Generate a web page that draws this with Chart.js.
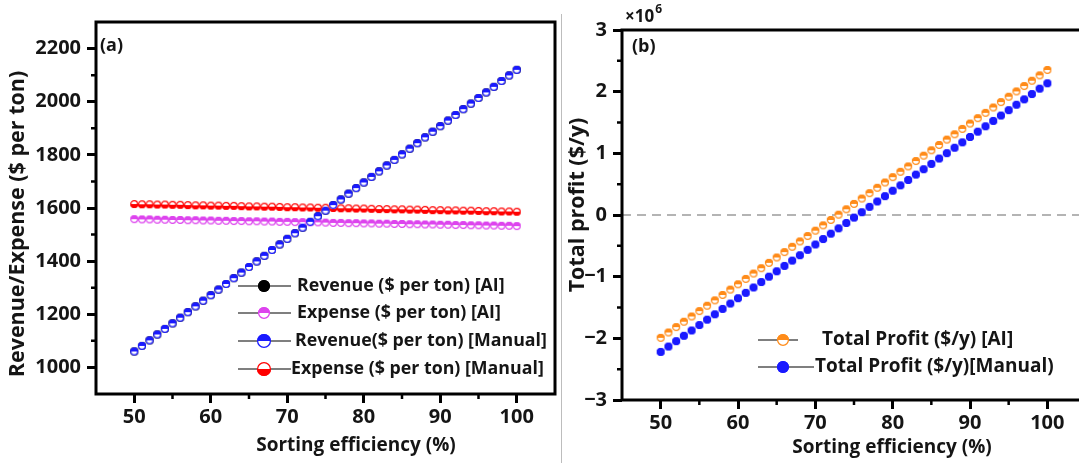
<!DOCTYPE html>
<html>
<head>
<meta charset="utf-8">
<script src="https://cdn.jsdelivr.net/npm/chart.js@4.4.1/dist/chart.umd.min.js"></script>
<style>
  html, body { margin: 0; padding: 0; background: #fff; overflow: hidden; width: 1079px; height: 463px; }
  #chartA { position: absolute; left: 0; top: 0; }
  #chartB { position: absolute; left: 560px; top: 0; }
  #sep { position: absolute; left: 561px; top: 14px; width: 1px; height: 449px; background: #bdbdbd; }
</style>
</head>
<body>
<canvas id="chartA" width="560" height="463"></canvas>
<div id="sep"></div>
<canvas id="chartB" width="532" height="463"></canvas>
<script>
// sorting efficiency (%)
const efficiency = [50, 51, 52, 53, 54, 55, 56, 57, 58, 59, 60, 61, 62, 63, 64, 65, 66, 67, 68, 69,
  70, 71, 72, 73, 74, 75, 76, 77, 78, 79, 80, 81, 82, 83, 84, 85, 86, 87, 88, 89,
  90, 91, 92, 93, 94, 95, 96, 97, 98, 99, 100];

// panel (a), $ per ton
const revenueAI = [1060, 1081, 1102, 1124, 1145, 1166, 1187, 1208, 1230, 1251, 1272, 1293, 1314, 1336, 1357, 1378, 1399,
  1420, 1442, 1463, 1484, 1505, 1526, 1548, 1569, 1590, 1611, 1632, 1654, 1675, 1696, 1717, 1738, 1760,
  1781, 1802, 1823, 1844, 1866, 1887, 1908, 1929, 1950, 1972, 1993, 2014, 2035, 2056, 2078, 2099, 2120];
const revenueManual = [1060, 1081, 1102, 1124, 1145, 1166, 1187, 1208, 1230, 1251, 1272, 1293, 1314, 1336, 1357, 1378, 1399,
  1420, 1442, 1463, 1484, 1505, 1526, 1548, 1569, 1590, 1611, 1632, 1654, 1675, 1696, 1717, 1738, 1760,
  1781, 1802, 1823, 1844, 1866, 1887, 1908, 1929, 1950, 1972, 1993, 2014, 2035, 2056, 2078, 2099, 2120];
const expenseAI = [1558, 1557, 1557, 1556, 1556, 1555, 1555, 1554, 1554, 1553, 1553, 1552, 1552, 1551, 1551, 1550, 1550,
  1549, 1549, 1548, 1548, 1547, 1547, 1546, 1546, 1545, 1544, 1544, 1543, 1543, 1542, 1542, 1541, 1541,
  1540, 1540, 1539, 1539, 1538, 1538, 1537, 1537, 1536, 1536, 1535, 1535, 1534, 1534, 1533, 1533, 1532];
const expenseManual = [1615, 1614, 1614, 1613, 1613, 1612, 1612, 1611, 1610, 1610, 1609, 1609, 1608, 1608, 1607, 1606, 1606,
  1605, 1605, 1604, 1603, 1603, 1602, 1602, 1601, 1601, 1600, 1599, 1599, 1598, 1598, 1597, 1596, 1596,
  1595, 1595, 1594, 1594, 1593, 1592, 1592, 1591, 1591, 1590, 1590, 1589, 1588, 1588, 1587, 1587, 1586];

// panel (b), total profit in millions of $/y
const profitAI = [-1.992, -1.905, -1.818, -1.731, -1.645, -1.558, -1.471, -1.384, -1.297, -1.210, -1.123, -1.036, -0.949,
  -0.863, -0.776, -0.689, -0.602, -0.515, -0.428, -0.341, -0.254, -0.168, -0.081, 0.006, 0.093, 0.180, 0.267,
  0.354, 0.441, 0.528, 0.614, 0.701, 0.788, 0.875, 0.962, 1.049, 1.136, 1.223, 1.309, 1.396, 1.483, 1.570,
  1.657, 1.744, 1.831, 1.918, 2.004, 2.091, 2.178, 2.265, 2.352];
const profitManual = [-2.220, -2.133, -2.046, -1.959, -1.872, -1.784, -1.697, -1.610, -1.523, -1.436, -1.349, -1.262, -1.175,
  -1.087, -1.000, -0.913, -0.826, -0.739, -0.652, -0.565, -0.478, -0.390, -0.303, -0.216, -0.129, -0.042, 0.045,
  0.132, 0.219, 0.306, 0.394, 0.481, 0.568, 0.655, 0.742, 0.829, 0.916, 1.003, 1.091, 1.178, 1.265, 1.352,
  1.439, 1.526, 1.613, 1.700, 1.788, 1.875, 1.962, 2.049, 2.136];

// axis ticks
const xTicks = [50, 60, 70, 80, 90, 100];
const xMinor = [55, 65, 75, 85, 95];
const yTicksA = [1000, 1200, 1400, 1600, 1800, 2000, 2200];
const yMinorA = [1100, 1300, 1500, 1700, 1900, 2100];
const yTicksB = [-3, -2, -1, 0, 1, 2, 3];
const yMinorB = [-2.5, -1.5, -0.5, 0.5, 1.5, 2.5];

const FONT = "'Open Sans', 'DejaVu Sans', sans-serif";
const INK = '#151515';

function marker(color, fill, r) {
  const s = Math.ceil(2 * r + 2);
  const c = document.createElement('canvas');
  c.width = c.height = s;
  const g = c.getContext('2d');
  const m = s / 2;
  g.beginPath(); g.arc(m, m, r, 0, 2 * Math.PI);
  g.fillStyle = fill === 'full' ? color : '#fff'; g.fill();
  if (fill === 'top' || fill === 'bottom') {
    g.beginPath();
    if (fill === 'top') g.arc(m, m, r, Math.PI, 2 * Math.PI); else g.arc(m, m, r, 0, Math.PI);
    g.closePath(); g.fillStyle = color; g.fill();
  }
  g.beginPath(); g.arc(m, m, r - 0.6, 0, 2 * Math.PI);
  g.lineWidth = 1.3; g.strokeStyle = color; g.stroke();
  return c;
}

function pts(ys) {
  return efficiency.map((x, i) => ({ x: x, y: ys[i] }));
}

function series(label, ys, color, fill, order, legendR) {
  return {
    label: label, data: pts(ys), showLine: false, order: order,
    pointStyle: marker(color, fill, 4), pointRadius: 4, pointHoverRadius: 4,
    legendMarker: marker(color, fill, legendR)
  };
}

// frame, minor ticks, titles, legend drawn on the canvas
const decor = {
  id: 'decor',
  beforeDatasetsDraw(chart, args, o) {
    if (!o.zeroLine) return;
    const ctx = chart.ctx, a = chart.chartArea;
    const y = chart.scales.y.getPixelForValue(0);
    ctx.save();
    ctx.strokeStyle = '#b4b4b4'; ctx.lineWidth = 2; ctx.setLineDash([9, 6]);
    ctx.beginPath(); ctx.moveTo(a.left, y); ctx.lineTo(a.right, y); ctx.stroke();
    ctx.restore();
  },
  afterDraw(chart, args, o) {
    const ctx = chart.ctx, a = chart.chartArea;
    const sx = chart.scales.x, sy = chart.scales.y;
    ctx.save();
    ctx.strokeStyle = '#000'; ctx.lineWidth = 3;
    ctx.strokeRect(a.left, a.top, a.right - a.left, a.bottom - a.top);
    ctx.lineWidth = 2.5;
    ctx.beginPath();
    o.minorX.forEach(v => { const x = sx.getPixelForValue(v); ctx.moveTo(x, a.bottom); ctx.lineTo(x, a.bottom + 5); });
    o.minorY.forEach(v => { const y = sy.getPixelForValue(v); ctx.moveTo(a.left, y); ctx.lineTo(a.left - 5, y); });
    ctx.stroke();

    ctx.fillStyle = INK;
    ctx.textBaseline = 'middle';
    ctx.textAlign = 'center';
    ctx.font = 'bold 19px ' + FONT;
    ctx.fillText(o.xTitle.text, o.xTitle.x, o.xTitle.y);
    ctx.save();
    ctx.font = 'bold 21.5px ' + FONT;
    ctx.translate(o.yTitle.x, o.yTitle.y); ctx.rotate(-Math.PI / 2);
    ctx.fillText(o.yTitle.text, 0, 0);
    ctx.restore();

    ctx.textAlign = 'left';
    ctx.font = 'bold 18px ' + FONT;
    ctx.fillText(o.panel.text, o.panel.x, o.panel.y);

    if (o.exponent) {
      ctx.textBaseline = 'alphabetic';
      ctx.font = 'bold 17px ' + FONT;
      ctx.fillText('×10', o.exponent.x, o.exponent.y);
      const w = ctx.measureText('×10').width;
      ctx.font = 'bold 12px ' + FONT;
      ctx.fillText('6', o.exponent.x + w + 1, o.exponent.y - 9);
      ctx.textBaseline = 'middle';
    }

    const L = o.legend;
    ctx.font = 'bold ' + L.size + 'px ' + FONT;
    L.rows.forEach((r, i) => {
      const ds = chart.data.datasets[i];
      ctx.strokeStyle = '#000'; ctx.lineWidth = 1.2;
      ctx.beginPath(); ctx.moveTo(L.lineFrom, r.y); ctx.lineTo(r.lineTo, r.y); ctx.stroke();
      const m = ds.legendMarker;
      ctx.drawImage(m, L.markerX - m.width / 2, r.y - m.height / 2);
      ctx.fillStyle = INK;
      ctx.fillText(ds.label, r.textX, r.y);
    });
    ctx.restore();
  }
};

function scales(xMin, xMax, yMin, yMax, yTicks, yWidth, xHeight, yFmt) {
  const tickFont = { family: FONT, size: 20, weight: 'bold' };
  const grid = { drawOnChartArea: false, drawTicks: true, tickLength: 9, tickWidth: 3, tickColor: '#000' };
  return {
    x: {
      type: 'linear', min: xMin, max: xMax,
      afterBuildTicks: s => { s.ticks = xTicks.map(v => ({ value: v })); },
      afterFit: s => { s.height = xHeight; },
      grid: grid, border: { display: false },
      ticks: { color: INK, font: tickFont, padding: 2, maxRotation: 0, autoSkip: false }
    },
    y: {
      type: 'linear', min: yMin, max: yMax,
      afterBuildTicks: s => { s.ticks = yTicks.map(v => ({ value: v })); },
      afterFit: s => { s.width = yWidth; },
      grid: grid, border: { display: false },
      ticks: { color: INK, font: tickFont, padding: 6, autoSkip: false, callback: yFmt }
    }
  };
}

new Chart(document.getElementById('chartA'), {
  type: 'scatter',
  data: {
    datasets: [
      series('Revenue ($ per ton) [AI]', revenueAI, '#000000', 'full', 4, 6),
      series('Expense ($ per ton) [AI]', expenseAI, '#dd44ee', 'top', 3, 6),
      series('Revenue($ per ton) [Manual]', revenueManual, '#1a1aff', 'top', 1, 7),
      series('Expense ($ per ton) [Manual]', expenseManual, '#ff0000', 'bottom', 2, 7)
    ]
  },
  options: {
    responsive: false, animation: false, events: [],
    layout: { padding: { left: 0, top: 22, right: 3, bottom: 0 } },
    scales: scales(45, 105, 900, 2300, yTicksA, 96, 69, v => String(v)),
    plugins: {
      legend: { display: false }, tooltip: { enabled: false },
      decor: {
        minorX: xMinor, minorY: yMinorA,
        xTitle: { text: 'Sorting efficiency (%)', x: 356, y: 446 },
        yTitle: { text: 'Revenue/Expense ($ per ton)', x: 18, y: 224 },
        panel: { text: '(a)', x: 100, y: 46 },
        legend: {
          size: 17.8, lineFrom: 238, markerX: 264,
          rows: [
            { y: 286, lineTo: 291, textX: 297 },
            { y: 313, lineTo: 291, textX: 297 },
            { y: 341, lineTo: 291, textX: 295 },
            { y: 369, lineTo: 291, textX: 291 }
          ]
        }
      }
    }
  },
  plugins: [decor]
});

new Chart(document.getElementById('chartB'), {
  type: 'scatter',
  data: {
    datasets: [
      series('Total Profit ($/y) [AI]', profitAI, '#ff8c1a', 'top', 2, 6),
      series('Total Profit ($/y)[Manual)', profitManual, '#1a1aff', 'full', 1, 6)
    ]
  },
  options: {
    responsive: false, animation: false, events: [],
    layout: { padding: { left: 0, top: 30, right: 6, bottom: 0 } },
    scales: scales(45, 105, -3, 3, yTicksB, 62, 63, v => (v < 0 ? '\u2212' + Math.abs(v) : String(v))),
    plugins: {
      legend: { display: false }, tooltip: { enabled: false },
      decor: {
        zeroLine: true,
        minorX: xMinor, minorY: yMinorB,
        xTitle: { text: 'Sorting efficiency (%)', x: 332, y: 448 },
        yTitle: { text: 'Total profit ($/y)', x: 18, y: 205 },
        panel: { text: '(b)', x: 72, y: 47 },
        exponent: { x: 65, y: 22 },
        legend: {
          size: 19, lineFrom: 198, markerX: 223,
          rows: [
            { y: 340, lineTo: 238, textX: 262 },
            { y: 367, lineTo: 254, textX: 255 }
          ]
        }
      }
    }
  },
  plugins: [decor]
});
</script>
</body>
</html>
